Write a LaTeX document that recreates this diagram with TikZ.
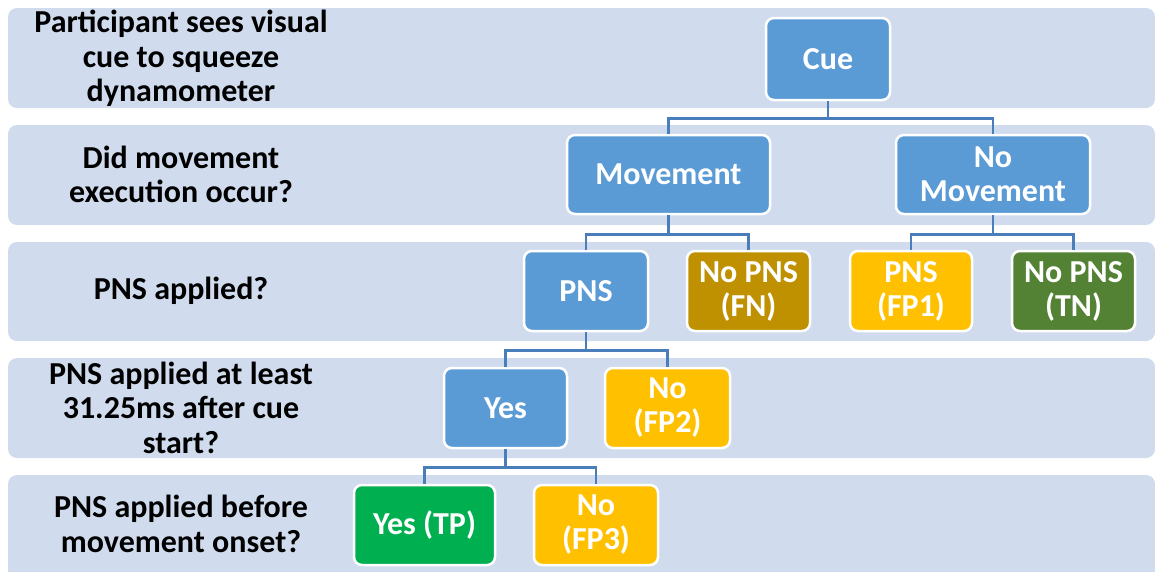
\documentclass[tikz,border=0pt]{standalone}
\usepackage{fontspec}
\setmainfont{Carlito}
\definecolor{band}{HTML}{D0DCEE}
\definecolor{cblue}{HTML}{5B9BD5}
\definecolor{cdgold}{HTML}{BF9000}
\definecolor{cgold}{HTML}{FFC000}
\definecolor{cdgreen}{HTML}{548235}
\definecolor{cgreen}{HTML}{00B050}
\definecolor{conn}{HTML}{4A7EBB}
\begin{document}
\begin{tikzpicture}[x=1pt,y=-1pt,
  bandbox/.style={fill=band, rounded corners=9pt},
  box/.style={rectangle, rounded corners=8pt, draw=white, line width=2.5pt, text=white,
    font=\bfseries\fontsize{32}{34}\selectfont, align=center, inner sep=0pt},
  lbl/.style={text=black, font=\bfseries\fontsize{32}{34.5}\selectfont, align=center, inner sep=0pt},
  link/.style={draw=conn, line width=2.5pt}]
\useasboundingbox (0,0) rectangle (1155,571);
% bands
\fill[bandbox] (8,8) rectangle (1155,108);
\fill[bandbox] (8,125) rectangle (1155,225);
\fill[bandbox] (8,242) rectangle (1155,341);
\fill[bandbox] (8,358) rectangle (1155,458);
\fill[bandbox] (8,475) rectangle (1155,580);
% left labels
\node[lbl] (l1) at (181,58.5) {Participant sees visual\\cue to squeeze\\dynamometer};
\node[lbl] (l2) at (181,174.5) {Did movement\\execution occur?};
\node[lbl] (l3) at (181,291) {PNS applied?};
\node[lbl] (l4) at (181,407.5) {PNS applied at least\\31.25ms after cue\\start?};
\node[lbl] (l5) at (181,524) {PNS applied before\\movement onset?};
% nodes
\node[box, fill=cblue, minimum width=124pt, minimum height=82pt] (cue) at (828,59) {Cue};
\node[box, fill=cblue, minimum width=203pt, minimum height=79pt] (mov) at (668.5,174.5) {Movement};
\node[box, fill=cblue, minimum width=194pt, minimum height=79pt] (nomov) at (993,174.5) {No\\Movement};
\node[box, fill=cblue, minimum width=124pt, minimum height=80pt] (pns) at (586,291) {PNS};
\node[box, fill=cdgold, minimum width=123pt, minimum height=80pt] (fn) at (748.5,291) {No PNS\\(FN)};
\node[box, fill=cgold, minimum width=122pt, minimum height=80pt] (fp1) at (911,291) {PNS\\(FP1)};
\node[box, fill=cdgreen, minimum width=123pt, minimum height=80pt] (tn) at (1073.5,291) {No PNS\\(TN)};
\node[box, fill=cblue, minimum width=123pt, minimum height=80pt] (yes) at (505.5,408) {Yes};
\node[box, fill=cgold, minimum width=125pt, minimum height=80pt] (fp2) at (667.5,408) {No\\(FP2)};
\node[box, fill=cgreen, minimum width=141pt, minimum height=80pt] (tp) at (424.5,525) {Yes (TP)};
\node[box, fill=cgold, minimum width=124pt, minimum height=80pt] (fp3) at (596,525) {No\\(FP3)};
% connectors
\draw[link] (cue.south) -- ++(0,17) -| (mov.north);
\draw[link] (cue.south) -- ++(0,17) -| (nomov.north);
\draw[link] (mov.south) -- ++(0,19) -| (pns.north);
\draw[link] (mov.south) -- ++(0,19) -| (fn.north);
\draw[link] (nomov.south) -- ++(0,19) -| (fp1.north);
\draw[link] (nomov.south) -- ++(0,19) -| (tn.north);
\draw[link] (pns.south) -- ++(0,18) -| (yes.north);
\draw[link] (pns.south) -- ++(0,18) -| (fp2.north);
\draw[link] (yes.south) -- ++(0,18) -| (tp.north);
\draw[link] (yes.south) -- ++(0,18) -| (fp3.north);
\end{tikzpicture}
\end{document}
